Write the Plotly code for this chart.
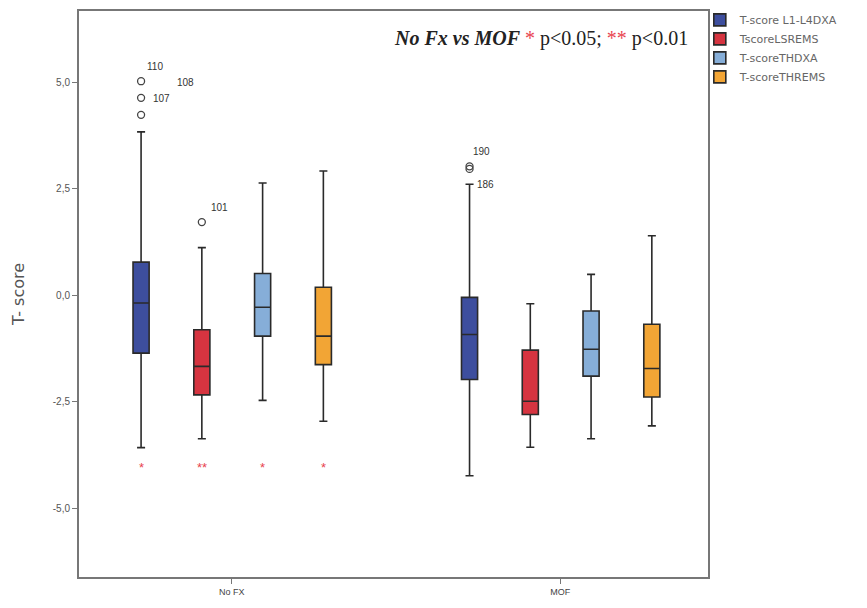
import plotly.graph_objects as go

# ---- data ----
groups = ["No FX", "MOF"]
group_pos = [0, 1]
series = ["T-score L1-L4DXA", "TscoreLSREMS", "T-scoreTHDXA", "T-scoreTHREMS"]
colors = ["#3D4E9E", "#D63440", "#86AED8", "#F2A535"]

# per series, values for [No FX, MOF]
lower_l1l4dxa = [-3.58, -4.24]
q1_l1l4dxa = [-1.36, -1.98]
med_l1l4dxa = [-0.18, -0.92]
q3_l1l4dxa = [0.78, -0.05]
upper_l1l4dxa = [3.84, 2.61]

lower_lsrems = [-3.37, -3.57]
q1_lsrems = [-2.34, -2.80]
med_lsrems = [-1.67, -2.49]
q3_lsrems = [-0.81, -1.29]
upper_lsrems = [1.12, -0.20]

lower_thdxa = [-2.47, -3.37]
q1_thdxa = [-0.96, -1.90]
med_thdxa = [-0.28, -1.27]
q3_thdxa = [0.51, -0.37]
upper_thdxa = [2.64, 0.49]

lower_threms = [-2.96, -3.07]
q1_threms = [-1.63, -2.39]
med_threms = [-0.96, -1.72]
q3_threms = [0.19, -0.68]
upper_threms = [2.92, 1.40]

lowers = [lower_l1l4dxa, lower_lsrems, lower_thdxa, lower_threms]
q1s = [q1_l1l4dxa, q1_lsrems, q1_thdxa, q1_threms]
meds = [med_l1l4dxa, med_lsrems, med_thdxa, med_threms]
q3s = [q3_l1l4dxa, q3_lsrems, q3_thdxa, q3_threms]
uppers = [upper_l1l4dxa, upper_lsrems, upper_thdxa, upper_threms]

# outliers: series index, group index, value, label
out_series = [0, 0, 0, 1, 0, 0]
out_group = [0, 0, 0, 0, 1, 1]
out_value = [5.03, 4.64, 4.24, 1.72, 3.03, 2.97]
out_label = ["110", "107", "", "101", "190", "186"]

# significance markers (No FX group)
sig_series = [0, 1, 2, 3]
sig_text = ["*", "**", "*", "*"]
sig_value = -4.04

tick_vals = [5, 2.5, 0, -2.5, -5]
tick_text = ["5,0", "2,5", "0,0", "-2,5", "-5,0"]

# ---- layout constants ----
offsets = [-0.276, -0.091, 0.094, 0.279]
box_w = 0.049

def xpos(s, g):
    return group_pos[g] + offsets[s]

fig = go.Figure()
for s in range(4):
    fig.add_trace(go.Box(
        name=series[s],
        x=[xpos(s, g) for g in range(2)],
        q1=q1s[s], median=meds[s], q3=q3s[s],
        lowerfence=lowers[s], upperfence=uppers[s],
        width=box_w,
        fillcolor=colors[s],
        line=dict(color="#2a2a2a", width=1.6),
        whiskerwidth=0.5,
        boxpoints=False,
        hoverinfo="skip",
        showlegend=True,
    ))

fig.add_trace(go.Scatter(
    x=[xpos(s, g) for s, g in zip(out_series, out_group)],
    y=out_value,
    mode="markers",
    marker=dict(symbol="circle-open", size=7, color="#444", line=dict(width=1.3)),
    showlegend=False, hoverinfo="skip",
))

annotations = []
lab_font = dict(family="Liberation Sans, Arial", size=10, color="#333")
shifts = {"110": (14, 15), "107": (20, -1), "101": (18, 15), "190": (12, 15), "186": (16, -16)}
for s, g, v, lab in zip(out_series, out_group, out_value, out_label):
    if lab:
        dx, dy = shifts[lab]
        annotations.append(dict(x=xpos(s, g), y=v, text=lab, showarrow=False,
                                xshift=dx, yshift=dy, font=lab_font))
# extra label 108 beside the top No FX outlier
annotations.append(dict(x=xpos(0, 0), y=out_value[0], text="108", showarrow=False,
                        xshift=44, yshift=-1, font=lab_font))

for s, t in zip(sig_series, sig_text):
    annotations.append(dict(x=xpos(s, 0), y=sig_value, text=t, showarrow=False,
                            font=dict(family="Liberation Sans, Arial", size=13, color="#e8434f")))

annotations.append(dict(
    xref="paper", yref="paper", x=0.971, y=0.952, xanchor="right", yanchor="middle",
    text="<b><i>No Fx vs MOF</i></b> <span style='color:#e8434f'>*</span> p&lt;0.05; "
         "<span style='color:#e8434f'>**</span> p&lt;0.01",
    showarrow=False,
    font=dict(family="Liberation Serif, Times New Roman", size=20, color="#222"),
))

fig.update_layout(
    width=867, height=608,
    margin=dict(l=79, r=159, t=11, b=31, autoexpand=False),
    paper_bgcolor="white", plot_bgcolor="white",
    boxmode="overlay",
    annotations=annotations,
    legend=dict(x=0.987, y=1.01, xanchor="left", yanchor="top",
                font=dict(family="DejaVu Sans, Arial", size=11, color="#666"),
                tracegroupgap=0, bgcolor="rgba(0,0,0,0)"),
    xaxis=dict(range=[-0.465, 1.45], tickvals=group_pos, ticktext=groups,
               showgrid=False, zeroline=False, showline=True, mirror=True,
               linecolor="#777", linewidth=2, ticks="outside", ticklen=5,
               tickcolor="#777",
               tickfont=dict(family="Liberation Sans, Arial", size=9, color="#444")),
    yaxis=dict(range=[-6.62, 6.68], tickvals=tick_vals, ticktext=tick_text,
               showgrid=False, zeroline=False, showline=True, mirror=True,
               linecolor="#777", linewidth=2, ticks="outside", ticklen=5,
               tickcolor="#777",
               title=dict(text="T- score", font=dict(family="DejaVu Sans, Arial", size=16, color="#555"),
                          standoff=24),
               tickfont=dict(family="Liberation Sans, Arial", size=10, color="#555")),
)

fig.write_html("out.html")
